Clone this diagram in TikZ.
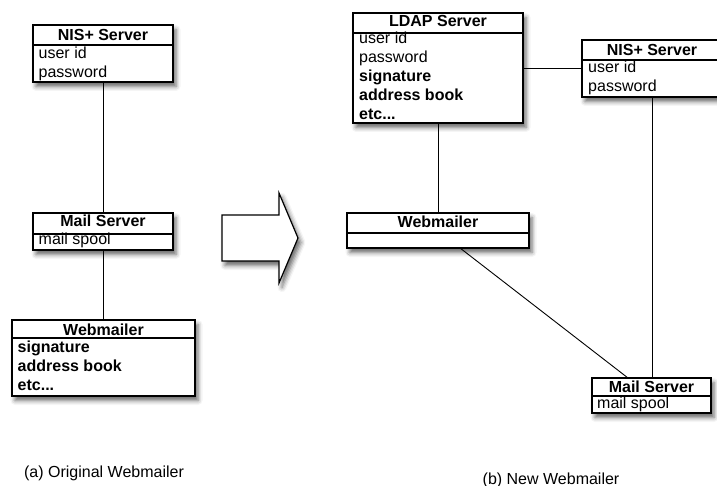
\documentclass[tikz,border=0pt]{standalone}
\usepackage{fontspec}
\setmainfont{Liberation Sans}
\usetikzlibrary{shadows.blur,calc}

% attribute rows of a class box, first row on the node's baseline
\newcommand\attrlist[1]{\begin{tabular}[t]{@{}l@{}}#1\end{tabular}}

\tikzset{
  classbox/.style={draw, fill=white, line width=1.2pt, inner sep=0pt, outer sep=0pt,
    anchor=north west,
    blur shadow={shadow xshift=3pt, shadow yshift=-4.5pt, shadow blur radius=4.5pt, shadow opacity=60}},
  classname/.style={anchor=base, inner sep=0pt, font=\fontsize{16}{19}\selectfont\bfseries},
  attrs/.style={anchor=base west, inner sep=0pt, font=\fontsize{16}{19}\selectfont},
  divider/.style={line width=1.1pt},
  assoc/.style={line width=0.9pt},
  caption/.style={anchor=base, inner sep=0pt, font=\fontsize{16}{19}\selectfont},
  bigarrow/.style={draw, fill=white, line width=1.2pt, line join=miter,
    blur shadow={shadow xshift=3pt, shadow yshift=-4.5pt, shadow blur radius=4.5pt, shadow opacity=60}},
}

\begin{document}
\begin{tikzpicture}[x=1pt, y=-1pt]
\useasboundingbox (0,0) rectangle (717,486);

% ---------------- (a) original layout ----------------
\node[classbox, minimum width=140, minimum height=57] (nisA) at (33,25) {};
\draw[divider] ([yshift=-20pt]nisA.north west) -- ([yshift=-20pt]nisA.north east);
\node[classname] (nisAt) at ([yshift=-16pt]nisA.north) {NIS+ Server};
\node[attrs] (nisAb) at ([xshift=5.5pt, yshift=-33.5pt]nisA.north west) {\attrlist{user id\\password}};

\node[classbox, minimum width=140, minimum height=37] (mailA) at (33,213) {};
\draw[divider] ([yshift=-21pt]mailA.north west) -- ([yshift=-21pt]mailA.north east);
\node[classname] (mailAt) at ([yshift=-14pt]mailA.north) {Mail Server};
\node[attrs] (mailAb) at ([xshift=5.5pt, yshift=-32pt]mailA.north west) {\attrlist{mail spool}};

\node[classbox, minimum width=183, minimum height=76] (webA) at (12,320) {};
\draw[divider] ([yshift=-18pt]webA.north west) -- ([yshift=-18pt]webA.north east);
\node[classname] (webAt) at ([yshift=-15pt]webA.north) {Webmailer};
\node[attrs] (webAb) at ([xshift=5.5pt, yshift=-32.5pt]webA.north west)
  {\attrlist{\bfseries signature\\\bfseries address book\\\bfseries etc...}};

\draw[assoc] (nisA.south) -- (mailA.north);
\draw[assoc] (mailA.south) -- (mailA.south |- webA.north);

\node[caption] (capA) at (104,477) {(a) Original Webmailer};

% ---------------- transition arrow ----------------
\filldraw[bigarrow] (222,215) -- (279,215) -- (279,193) -- (298,238)
  -- (279,283) -- (279,261) -- (222,261) -- cycle;

% ---------------- (b) new layout ----------------
\node[classbox, minimum width=170, minimum height=110] (ldap) at (353,13) {};
\draw[divider] ([yshift=-20pt]ldap.north west) -- ([yshift=-20pt]ldap.north east);
\node[classname] (ldapt) at ([yshift=-14pt]ldap.north) {LDAP Server};
\node[attrs] (ldapb) at ([xshift=6pt, yshift=-30.5pt]ldap.north west)
  {\attrlist{user id\\password\\\bfseries signature\\\bfseries address book\\\bfseries etc...}};

\node[classbox, minimum width=140, minimum height=57] (nisB) at (582,40) {};
\draw[divider] ([yshift=-20pt]nisB.north west) -- ([yshift=-20pt]nisB.north east);
\node[classname] (nisBt) at ([yshift=-15.5pt]nisB.north) {NIS+ Server};
\node[attrs] (nisBb) at ([xshift=6pt, yshift=-32.5pt]nisB.north west) {\attrlist{user id\\password}};

\node[classbox, minimum width=182, minimum height=35] (webB) at (347,213) {};
\draw[divider] ([yshift=-20pt]webB.north west) -- ([yshift=-20pt]webB.north east);
\node[classname] (webBt) at ([yshift=-15pt]webB.north) {Webmailer};

\node[classbox, minimum width=119, minimum height=35] (mailB) at (592,378) {};
\draw[divider] ([yshift=-18pt]mailB.north west) -- ([yshift=-18pt]mailB.north east);
\node[classname] (mailBt) at ([yshift=-14pt]mailB.north) {Mail Server};
\node[attrs] (mailBb) at ([xshift=5pt, yshift=-30pt]mailB.north west) {\attrlist{mail spool}};

\coordinate (webOut) at ([xshift=113pt]webB.south west);
\coordinate (mailIn) at ([xshift=36pt]mailB.north west);

\draw[assoc] (ldap.east) -- (ldap.east -| nisB.west);
\draw[assoc] (ldap.south) -- (webB.north);
\draw[assoc] (nisB.south) -- (nisB.south |- mailB.north);
\draw[assoc] (webOut) -- (mailIn);

\node[caption] (capB) at (551,484) {(b) New Webmailer};
\end{tikzpicture}
\end{document}
